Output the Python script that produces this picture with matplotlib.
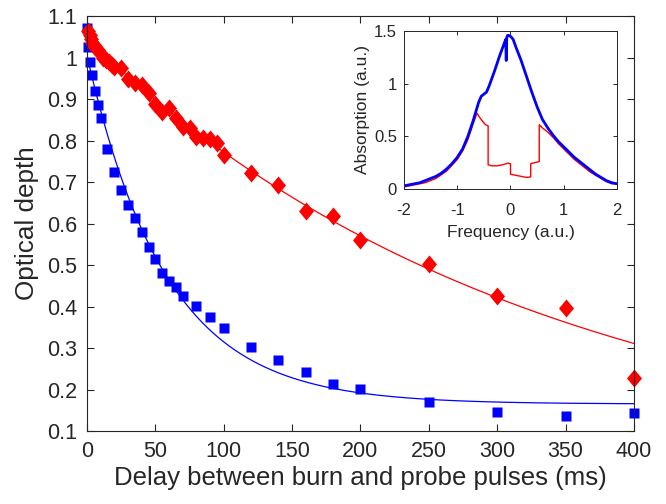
import numpy as np
import matplotlib
matplotlib.use("Agg")
import matplotlib.pyplot as plt
from matplotlib.path import Path

plt.rcParams['font.family'] = ['Liberation Sans', 'DejaVu Sans']

# ---- main data ----
blue_t = [0, 1, 2, 4, 6, 8, 10, 15, 20, 25, 30, 35, 40, 45, 50, 55, 60, 65, 70,
          80, 90, 100, 120, 140, 160, 180, 200, 250, 300, 350, 400]
blue_od = [1.07, 1.025, 0.99, 0.958, 0.92, 0.886, 0.854, 0.78, 0.724, 0.681, 0.645,
           0.613, 0.58, 0.543, 0.514, 0.481, 0.461, 0.447, 0.425, 0.401, 0.375,
           0.348, 0.302, 0.271, 0.242, 0.213, 0.201, 0.170, 0.146, 0.136, 0.143]

red_t = [1, 2, 3, 4, 5, 6, 8, 10, 12, 14, 16, 18, 20, 25, 30, 35, 40, 45, 50, 55,
         60, 65, 70, 75, 80, 85, 90, 95, 100, 120, 140, 160, 180, 200, 250, 300,
         350, 400]
red_od = [1.065, 1.055, 1.045, 1.035, 1.03, 1.025, 1.018, 1.008, 1.0, 0.994, 0.99,
          0.982, 0.977, 0.975, 0.948, 0.939, 0.934, 0.914, 0.888, 0.869, 0.878,
          0.854, 0.833, 0.830, 0.808, 0.806, 0.804, 0.794, 0.765, 0.722, 0.693,
          0.630, 0.618, 0.560, 0.502, 0.425, 0.396, 0.228]

# exponential fit parameters: A*exp(-t/tau) + C
blue_fit = dict(A=0.84, tau=58.0, C=0.165)
red_fit = dict(A=1.045, tau=330.0, C=0.0)

# ---- inset data ----
blue_f = [-2.0, -1.9, -1.8, -1.7, -1.6, -1.5, -1.4, -1.3, -1.2, -1.1, -1.0, -0.9,
          -0.8, -0.7, -0.6, -0.55, -0.5, -0.45, -0.4, -0.3, -0.2, -0.12, -0.09,
          -0.08, -0.07, -0.05, 0.0, 0.05, 0.1, 0.2, 0.3, 0.4, 0.5, 0.6, 0.7, 0.8,
          0.9, 1.0, 1.1, 1.2, 1.3, 1.4, 1.5, 1.6, 1.7, 1.8, 1.9, 2.0]
blue_abs = [0.03, 0.04, 0.05, 0.06, 0.08, 0.10, 0.12, 0.15, 0.19, 0.24, 0.30, 0.38,
            0.50, 0.65, 0.82, 0.88, 0.90, 0.92, 0.98, 1.12, 1.27, 1.38, 1.42,
            1.22, 1.44, 1.46, 1.45, 1.42, 1.35, 1.22, 1.07, 0.92, 0.78, 0.66, 0.58,
            0.51, 0.45, 0.40, 0.35, 0.30, 0.26, 0.22, 0.18, 0.14, 0.11, 0.08, 0.06,
            0.05]

red_f = [-2.0, -1.8, -1.6, -1.4, -1.2, -1.0, -0.9, -0.8, -0.7, -0.63, -0.58, -0.52,
         -0.47, -0.42, -0.42, -0.35, -0.25, -0.15, -0.05, 0.0, 0.0, 0.1, 0.2, 0.3,
         0.38, 0.38, 0.45, 0.54, 0.54, 0.6, 0.7, 0.8, 0.9, 1.0, 1.1, 1.2, 1.3, 1.4,
         1.5, 1.6, 1.7, 1.8, 1.9, 2.0]
red_abs = [0.02, 0.04, 0.06, 0.10, 0.17, 0.28, 0.36, 0.47, 0.62, 0.72, 0.68, 0.64,
           0.61, 0.60, 0.23, 0.22, 0.22, 0.23, 0.245, 0.24, 0.14, 0.13, 0.12, 0.11,
           0.115, 0.24, 0.25, 0.26, 0.61, 0.58, 0.54, 0.49, 0.43, 0.38, 0.33, 0.28,
           0.24, 0.20, 0.16, 0.13, 0.10, 0.07, 0.05, 0.05]

txt = '#262626'

diamond = Path([(0, 1), (0.83, 0), (0, -1), (-0.83, 0), (0, 1)],
               [Path.MOVETO, Path.LINETO, Path.LINETO, Path.LINETO, Path.CLOSEPOLY])

fig = plt.figure(figsize=(6.66, 5.04), dpi=100)
ax = fig.add_axes([0.1306, 0.1448, 0.8213, 0.8234])

tt = np.linspace(0, 400, 400)
ax.plot(tt, blue_fit['A'] * np.exp(-tt / blue_fit['tau']) + blue_fit['C'],
        color='blue', lw=0.9)
ax.plot(tt, red_fit['A'] * np.exp(-tt / red_fit['tau']) + red_fit['C'],
        color='red', lw=0.9)
ax.plot(blue_t, blue_od, 's', color='blue', ms=6.8, mec='none', clip_on=False)
ax.plot(red_t, red_od, linestyle='none', marker=diamond, color='red', ms=13,
        mec='none', clip_on=False)

ax.set_xlim(0, 400)
ax.set_ylim(0.1, 1.1)
ax.set_xticks(np.arange(0, 401, 50))
ax.set_yticks(np.round(np.arange(0.1, 1.101, 0.1), 1))
ax.set_yticklabels(['0.1', '0.2', '0.3', '0.4', '0.5', '0.6', '0.7', '0.8', '0.9',
                    '1', '1.1'])
ax.tick_params(direction='in', top=True, right=True, length=5, width=0.8,
               labelsize=15.5, colors=txt, labelcolor=txt, pad=7)
for s in ax.spines.values():
    s.set_color(txt)
    s.set_linewidth(0.8)
ax.set_xlabel('Delay between burn and probe pulses (ms)', fontsize=18.5, color=txt,
              labelpad=3)
ax.set_ylabel('Optical depth', fontsize=18.8, color=txt, labelpad=6)

# inset
ins = fig.add_axes([0.6066, 0.625, 0.3198, 0.3135])
ins.plot(red_f, red_abs, color='red', lw=1.0)
ins.plot(blue_f, blue_abs, color='blue', lw=2.0)
ins.set_xlim(-2, 2)
ins.set_ylim(0, 1.5)
ins.set_xticks([-2, -1, 0, 1, 2])
ins.set_yticks([0, 0.5, 1, 1.5])
ins.set_xticklabels(['-2', '-1', '0', '1', '2'])
ins.set_yticklabels(['0', '0.5', '1', '1.5'])
ins.tick_params(direction='in', top=True, right=True, length=3, width=0.7,
                labelsize=12, colors=txt, labelcolor=txt)
ins.tick_params(axis='x', pad=10)
ins.tick_params(axis='y', pad=5)
for s in ins.spines.values():
    s.set_color(txt)
    s.set_linewidth(0.7)
ins.set_xlabel('Frequency (a.u.)', fontsize=12.5, color=txt, labelpad=5)
ins.set_ylabel('Absorption (a.u.)', fontsize=12.5, color=txt, labelpad=3)

fig.savefig('out.png', dpi=100)
